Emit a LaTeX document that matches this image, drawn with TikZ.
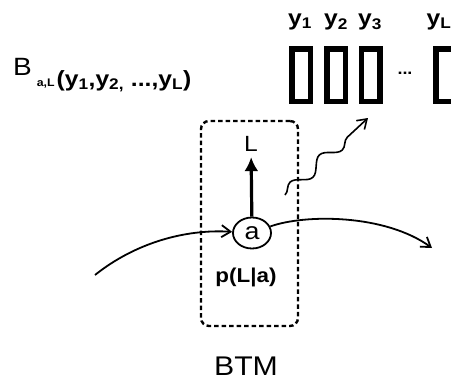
\documentclass[tikz,border=0pt]{standalone}
\usepackage{fontspec}
\setmainfont{Liberation Sans}[FakeStretch=1.12]
\usetikzlibrary{arrows.meta,shapes.geometric,decorations.pathmorphing}

\begin{document}
\begin{tikzpicture}[x=1pt,y=-1pt]
\tikzset{
  tokenbox/.style={draw,line width=5.5pt,minimum width=18.5pt,minimum height=52.5pt,inner sep=0pt},
  toklabel/.style={font=\fontsize{22}{24}\selectfont\bfseries,inner sep=0pt},
  statenode/.style={ellipse,draw,line width=1.8pt,minimum width=38pt,minimum height=31pt,inner sep=0pt,font=\fontsize{24}{26}\selectfont},
  modelbox/.style={draw,dashed,dash pattern=on 4.5pt off 3pt,line width=2.4pt,rounded corners=8pt,minimum width=97pt,minimum height=205pt,inner sep=0pt},
  flow/.style={-{Straight Barb[length=9pt,width=12pt,line width=1.8pt]},line width=1.8pt},
  emit/.style={-{Latex[length=14pt,width=14pt]},line width=3.2pt},
  wavy/.style={decorate,decoration={snake,amplitude=6pt,segment length=40pt,post length=9pt},
    -{Straight Barb[length=9pt,width=12pt,line width=1.6pt]},line width=1.6pt}
}
\useasboundingbox (0,0) rectangle (451,383);
% observed tokens
\node[tokenbox] (t1) at (301,75) {};
\node[tokenbox] (t2) at (336,75) {};
\node[tokenbox] (t3) at (370.5,75) {};
\node[font=\fontsize{16}{18}\selectfont\bfseries] (dots) at (405,73) {...};
\node[tokenbox] (tL) at (445,75) {};
\node[toklabel] (y1) at (300,22) {y\textsubscript{1}};
\node[toklabel] (y2) at (336,22) {y\textsubscript{2}};
\node[toklabel] (y3) at (370,22) {y\textsubscript{3}};
\node[toklabel] (yL) at (439,22) {y\textsubscript{L}};
\node[anchor=base west,inner sep=0pt,font=\fontsize{22}{24}\selectfont] (prob) at (13,86)
  {\raisebox{11pt}{\fontsize{25}{27}\selectfont B}\hspace{5pt}{\fontsize{11}{12}\selectfont\bfseries a,L}\hspace{2pt}\bfseries(y\textsubscript{1},y\textsubscript{2,} ...,y\textsubscript{L})};
% model
\node[modelbox] (btm) at (249.5,223.5) {};
\node[font=\fontsize{27}{30}\selectfont] (btmname) at (246,366) {BTM};
\node[statenode] (a) at (252,233) {a};
\node[font=\fontsize{22}{24}\selectfont] (len) at (251,144) {L};
\node[font=\fontsize{20}{22}\selectfont\bfseries] (plen) at (246,277) {p(L|a)};
\coordinate (in) at (95,275);
\coordinate (out) at (432,248);
\coordinate (ws) at (285,195);
\coordinate (we) at (368,118);
\draw[flow] (in) .. controls (135,243) and (185,229) .. (a);
\draw[flow] (a) .. controls (305,214) and (385,214) .. (out);
\draw[emit,shorten >=2pt] (a) -- (len);
\draw[wavy] (ws) -- (we);
\end{tikzpicture}
\end{document}
